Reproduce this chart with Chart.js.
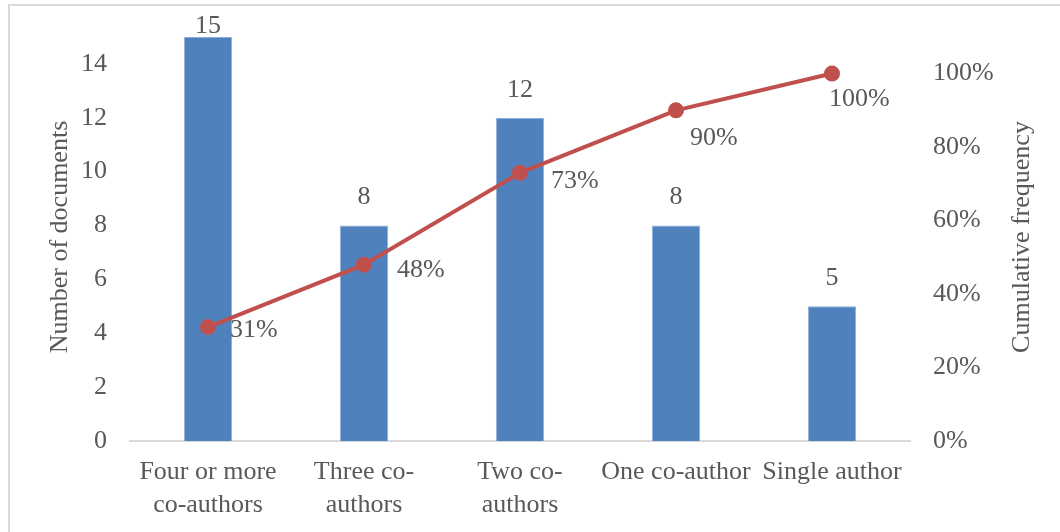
<!DOCTYPE html>
<html>
<head>
<meta charset="utf-8">
<script src="https://cdn.jsdelivr.net/npm/chart.js@4/dist/chart.umd.min.js"></script>
<style>
  body { margin: 0; background: #fff; }
  #wrap { width: 1060px; height: 532px; }
</style>
</head>
<body>
<div id="wrap"><canvas id="coauth" width="1060" height="532"></canvas></div>
<script>
const categories = [
  ["Four or more", "co-authors"],
  ["Three co-", "authors"],
  ["Two co-", "authors"],
  "One co-author",
  "Single author",
];
const documents = [15, 8, 12, 8, 5];
const cumulative = [31, 48, 73, 90, 100];

const txtColor = "#595959";
const serif = "'Liberation Serif', 'Times New Roman', serif";
const fs = 26;

// where each % label sits relative to its point
const pctOffsets = [[22, 3], [33, 6], [31, 8], [14, 28], [-3, 26]];

const labelsPlugin = {
  id: "labels",
  beforeDraw(chart) {
    const ctx = chart.ctx;
    ctx.save();
    ctx.strokeStyle = "#d9d9d9";
    ctx.lineWidth = 2;
    ctx.beginPath();
    ctx.moveTo(9, 600);
    ctx.lineTo(9, 5);
    ctx.lineTo(1100, 5);
    ctx.stroke();
    ctx.restore();
  },
  afterDatasetsDraw(chart) {
    const ctx = chart.ctx;
    const area = chart.chartArea;
    ctx.save();
    ctx.font = fs + "px " + serif;
    ctx.fillStyle = txtColor;

    // bar values
    ctx.textAlign = "center";
    ctx.textBaseline = "bottom";
    chart.getDatasetMeta(1).data.forEach((bar, i) => {
      let y = Math.max(bar.y - 15, area.top + 29);
      ctx.fillText(documents[i], bar.x, y);
    });

    // cumulative %
    ctx.textAlign = "left";
    ctx.textBaseline = "middle";
    chart.getDatasetMeta(0).data.forEach((pt, i) => {
      const o = pctOffsets[i];
      ctx.fillText(cumulative[i] + "%", pt.x + o[0], pt.y + o[1]);
    });

    // axis titles
    ctx.textAlign = "center";
    ctx.textBaseline = "middle";
    ctx.translate(60, 237);
    ctx.rotate(-Math.PI / 2);
    ctx.fillText("Number of documents", 0, 0);
    ctx.restore();

    ctx.save();
    ctx.font = fs + "px " + serif;
    ctx.fillStyle = txtColor;
    ctx.textAlign = "center";
    ctx.textBaseline = "middle";
    ctx.translate(1022, 237);
    ctx.rotate(-Math.PI / 2);
    ctx.fillText("Cumulative frequency", 0, 0);
    ctx.restore();
  },
};

Chart.defaults.font.family = serif;
Chart.defaults.font.size = fs;
Chart.defaults.color = txtColor;

// y axes shouldn't reserve room for their top/bottom tick labels
function fitY(width) {
  return (s) => {
    s.width = width;
    s.paddingTop = 0;
    s.paddingBottom = 0;
  };
}

new Chart(document.getElementById("coauth"), {
  type: "bar",
  data: {
    labels: categories,
    datasets: [
      {
        type: "line",
        label: "Cumulative frequency",
        data: cumulative,
        yAxisID: "yPct",
        borderColor: "#C0504D",
        backgroundColor: "#C0504D",
        borderWidth: 4,
        pointRadius: 6,
        pointHoverRadius: 6,
        tension: 0,
        order: 0,
      },
      {
        label: "Number of documents",
        data: documents,
        yAxisID: "y",
        backgroundColor: "#4F81BD",
        borderColor: "#8DAEDA",
        borderWidth: 1,
        categoryPercentage: 1,
        barPercentage: 0.31,
        order: 1,
      },
    ],
  },
  options: {
    responsive: false,
    animation: false,
    layout: { padding: { top: 8, left: 0, right: 0, bottom: 0 } },
    plugins: {
      legend: { display: false },
      tooltip: { enabled: false },
    },
    scales: {
      x: {
        grid: { display: false, drawTicks: false },
        border: { color: "#d9d9d9", width: 2 },
        ticks: { padding: 15, maxRotation: 0, autoSkip: false, font: { size: fs, lineHeight: 1.25 } },
        afterFit(s) {
          s.height = 91;
          s.paddingLeft = 0;
          s.paddingRight = 0;
        },
      },
      y: {
        position: "left",
        min: 0,
        max: 16,
        grid: { display: false, drawTicks: false },
        border: { display: false },
        ticks: {
          stepSize: 2,
          padding: 23,
          callback: (v) => (v <= 14 ? v : ""),
        },
        afterFit: fitY(130),
      },
      yPct: {
        position: "right",
        min: 0,
        max: 117.3,
        grid: { display: false, drawTicks: false },
        border: { display: false },
        ticks: {
          stepSize: 20,
          padding: 23,
          callback: (v) => (v <= 100 && v % 20 === 0 ? v + "%" : ""),
        },
        afterFit: fitY(150),
      },
    },
  },
  plugins: [labelsPlugin],
});
</script>
</body>
</html>
